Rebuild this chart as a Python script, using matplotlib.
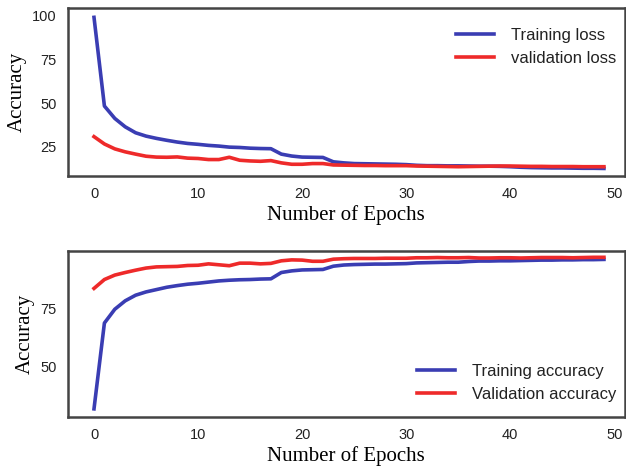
import numpy as np
import matplotlib
matplotlib.use("Agg")
import matplotlib.pyplot as plt

epochs = np.arange(50)

train_loss = [99.0, 48.3, 41.2, 36.4, 33.0, 31.1, 29.8, 28.7, 27.7, 26.9,
              26.4, 25.8, 25.4, 24.8, 24.6, 24.2, 24.0, 23.9, 20.8, 19.7,
              19.1, 19.0, 18.9, 16.4, 15.8, 15.4, 15.3, 15.2, 15.1, 15.0,
              14.8, 14.4, 14.2, 14.2, 14.1, 14.1, 14.0, 13.9, 13.9, 13.8,
              13.6, 13.3, 13.1, 13.0, 12.9, 12.9, 12.8, 12.7, 12.7, 12.6]
val_loss = [30.8, 26.6, 23.8, 22.1, 20.8, 19.6, 19.1, 19.0, 19.2, 18.5,
            18.3, 17.7, 17.7, 19.0, 17.3, 16.9, 16.7, 17.1, 15.8, 15.0,
            15.0, 15.4, 15.4, 14.6, 14.5, 14.4, 14.3, 14.3, 14.2, 14.2,
            14.2, 14.0, 13.9, 13.8, 13.7, 13.6, 13.7, 13.8, 13.9, 14.0,
            14.0, 13.9, 13.8, 13.8, 13.7, 13.7, 13.7, 13.6, 13.6, 13.6]

train_acc = [32.1, 68.8, 74.7, 78.3, 80.7, 82.1, 83.1, 84.1, 84.8, 85.4,
             85.8, 86.3, 86.8, 87.1, 87.3, 87.4, 87.6, 87.7, 90.4, 91.1,
             91.5, 91.6, 91.7, 93.1, 93.6, 93.8, 93.9, 94.0, 94.0, 94.1,
             94.2, 94.5, 94.6, 94.7, 94.8, 94.8, 95.1, 95.3, 95.3, 95.4,
             95.4, 95.5, 95.6, 95.7, 95.7, 95.8, 95.8, 95.9, 95.9, 96.0]
val_acc = [83.6, 87.4, 89.3, 90.4, 91.4, 92.3, 92.8, 92.9, 93.0, 93.4,
           93.5, 94.1, 93.7, 93.3, 94.4, 94.4, 94.1, 94.3, 95.4, 95.8,
           95.7, 95.2, 95.2, 96.1, 96.3, 96.4, 96.4, 96.4, 96.5, 96.5,
           96.5, 96.7, 96.7, 96.8, 96.7, 96.7, 96.8, 96.6, 96.6, 96.7,
           96.7, 96.6, 96.7, 96.8, 96.8, 96.8, 96.7, 96.8, 96.9, 96.9]

BLUE = '#3a3db3'
RED = '#ee2a2a'

fig = plt.figure(figsize=(6.26, 4.75), dpi=100)
ax1 = fig.add_axes([0.1086, 0.6295, 0.8894, 0.3535])
ax2 = fig.add_axes([0.1086, 0.122, 0.8894, 0.3496])

def styl(ax):
    for s in ax.spines.values():
        s.set_color('#444444')
        s.set_linewidth(1.8)
    ax.tick_params(length=0, labelsize=10.5, labelcolor='#222222', pad=8)
    for t in ax.get_xticklabels() + ax.get_yticklabels():
        t.set_fontfamily('Liberation Sans')
    ax.set_xlim(-2.5, 51.0)
    ax.set_xticks([0, 10, 20, 30, 40, 50])
    ax.set_xlabel('Number of Epochs', family='Liberation Serif', fontsize=15, labelpad=3)
    ax.set_ylabel('Accuracy', family='Liberation Serif', fontsize=15, labelpad=4)

# strata
ax1.plot(epochs, train_loss, color=BLUE, lw=2.6, label='Training loss')
ax1.plot(epochs, val_loss, color=RED, lw=2.6, label='validation loss')
ax1.set_ylim(8.3, 104.3)
ax1.set_yticks([25, 50, 75, 100])
styl(ax1)
ax1.legend(loc='upper right', bbox_to_anchor=(0.9964, 0.923), borderaxespad=0,
           frameon=False, prop={'family': 'Liberation Sans', 'size': 12},
           handlelength=2.3, handletextpad=1.0, labelcolor='#222222')

# dokladnosc
ax2.plot(epochs, train_acc, color=BLUE, lw=2.6, label='Training accuracy')
ax2.plot(epochs, val_acc, color=RED, lw=2.6, label='Validation accuracy')
ax2.set_ylim(28.6, 99.6)
ax2.set_yticks([50, 75])
styl(ax2)
ax2.legend(loc='lower right', bbox_to_anchor=(0.9964, 0.05), borderaxespad=0,
           frameon=False, prop={'family': 'Liberation Sans', 'size': 12},
           handlelength=2.3, handletextpad=1.0, labelcolor='#222222')

fig.savefig('out.png', dpi=100)
